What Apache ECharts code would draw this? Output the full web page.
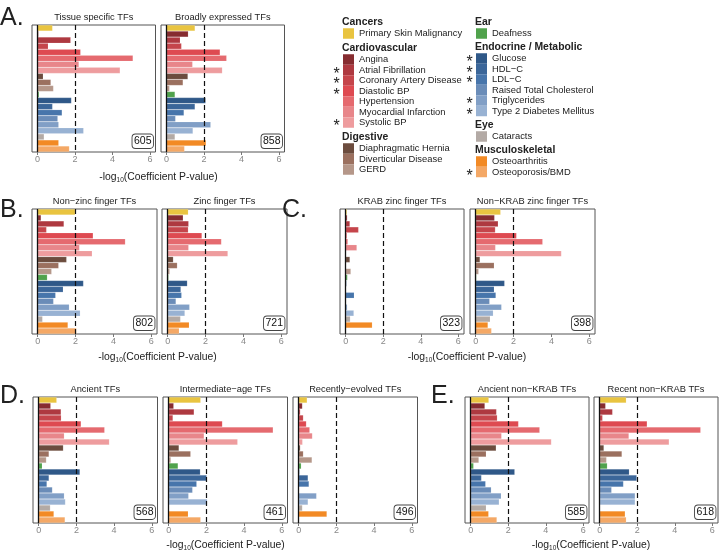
<!DOCTYPE html>
<html><head><meta charset="utf-8">
<script src="https://cdn.jsdelivr.net/npm/echarts@6/dist/echarts.min.js"></script>
<style>html,body{margin:0;padding:0;background:#fff}#c{width:723px;height:555px}</style>
</head><body><div id="c"></div>
<script>
// ---------- DATA ----------
const categories = ['Primary Skin Malignancy','Angina','Atrial Fibrillation','Coronary Artery Disease','Diastolic BP','Hypertension','Myocardial Infarction','Systolic BP','Diaphragmatic Hernia','Diverticular Disease','GERD','Deafness','Glucose','HDL\u2212C','LDL\u2212C','Raised Total Cholesterol','Triglycerides','Type 2 Diabetes Mellitus','Cataracts','Osteoarthritis','Osteoporosis/BMD'];
const groupNames = ['Cancers','Cardiovascular','Digestive','Ear','Endocrine / Metabolic','Eye','Musculoskeletal'];
const groupSizes = [1,7,3,1,6,1,2];
const significant = [0,0,1,1,1,0,0,1,0,0,0,0,1,1,1,0,1,1,0,0,1];
const colors = ['#E9C440','#862C30','#AE3940','#C5454B','#DE4A51','#E56A6F','#E8868A','#EE9C9E','#6C4C3E','#9B705F','#B59789','#50A24C','#2F5888','#3B6699','#4775AB','#6A8CB8','#819FC6','#98B2D3','#B3AAA5','#F28A25','#F4A866'];
const xTicks = [0,2,4,6];
const panelTitles = ['Tissue specific TFs','Broadly expressed TFs','Non\u2212zinc finger TFs','Zinc finger TFs','KRAB zinc finger TFs','Non\u2212KRAB zinc finger TFs','Ancient TFs','Intermediate\u2212age TFs','Recently\u2212evolved TFs','Ancient non\u2212KRAB TFs','Recent non\u2212KRAB TFs'];
const counts = [605,858,802,721,323,398,568,461,496,585,618];
const tissueSpecific   = [0.80,0.05,1.77,0.57,2.30,5.10,2.21,4.41,0.30,0.71,0.85,0.08,1.81,0.80,1.31,1.08,1.13,2.46,0.35,1.13,1.70];
const broadlyExpressed = [1.52,1.16,0.73,0.80,2.86,3.21,1.39,2.98,1.14,0.88,0.16,0.45,2.09,1.52,0.93,0.48,2.36,1.41,0.45,2.11,0.96];
const nonZincFinger    = [1.98,0.18,1.39,0.47,2.93,4.63,2.21,2.88,1.53,1.11,0.74,0.51,2.42,1.35,0.95,0.84,1.67,2.25,0.26,1.60,2.05];
const zincFinger       = [1.09,0.82,1.11,1.09,1.81,2.84,1.11,3.18,0.30,0.51,0.11,0.05,1.04,0.70,0.74,0.44,1.16,0.91,0.68,1.14,0.61];
const krabZnf          = [0.07,0.09,0.23,0.69,0.07,0.12,0.60,0.02,0.23,0.03,0.28,0.10,0.05,0.02,0.46,0.02,0.09,0.44,0.25,1.42,0.02];
const nonKrabZnf       = [1.32,1.00,1.19,1.04,2.16,3.54,1.05,4.53,0.23,0.98,0.16,0.04,1.53,0.98,1.07,0.74,1.37,0.93,0.77,0.65,0.84];
const ancientTFs       = [0.96,0.64,1.19,1.20,2.25,3.50,1.36,3.75,1.31,0.55,0.41,0.19,2.19,0.55,0.44,0.73,1.36,1.42,0.62,0.81,1.40];
const intermediateTFs  = [1.70,0.27,1.35,0.23,2.85,5.54,1.88,3.66,0.55,1.17,0.12,0.50,1.68,2.02,1.49,1.27,1.06,2.05,0.02,1.04,1.70];
const recentTFs        = [0.45,0.20,0.09,0.25,0.41,0.59,0.73,0.21,0.09,0.25,0.71,0.14,0.05,0.50,0.55,0.02,0.95,0.50,0.20,1.50,0.01];
const ancientNonKrab   = [0.97,0.76,1.38,1.42,2.55,3.68,1.65,4.30,1.36,0.83,0.44,0.16,2.35,0.58,0.80,1.10,1.63,1.52,0.83,0.96,1.40];
const recentNonKrab    = [1.42,0.32,0.69,0.16,2.53,5.38,1.56,3.70,0.23,1.19,0.37,0.41,1.58,1.98,1.27,0.64,1.89,1.89,0.02,1.36,1.42];
const panelData = [tissueSpecific,broadlyExpressed,nonZincFinger,zincFinger,krabZnf,nonKrabZnf,ancientTFs,intermediateTFs,recentTFs,ancientNonKrab,recentNonKrab];
const threshold = 2;

// ---------- LAYOUT ----------
const FONT = '"Liberation Sans", Arial, Helvetica, sans-serif';
const boxes = [
  [32,25,123.5,127],[161,25,123.5,127],
  [32,209,125,125],[162,209,125,125],
  [340,209,124,125],[470,209,125,125],
  [33,397,124.5,126],[163,397,124.5,126],[293,397,124.5,126],
  [465,397,124,126],[594,397,124,126]
];
const panelLetters = [['A.',0,18],['B.',0,210],['C.',282,210],['D.',0,396],['E.',431,396]];
const axisTitles = [[158.5,177],[157.5,357],[467,357],[225.5,545],[591,545]];

const chart = echarts.init(document.getElementById('c'));
const grid = [], xAxis = [], yAxis = [], series = [], graphic = [];
boxes.forEach((b,i) => {
  grid.push({left:b[0], top:b[1], width:b[2], height:b[3], show:true, borderColor:'#555', borderWidth:1, backgroundColor:'#fff', containLabel:false});
  xAxis.push({type:'value', gridIndex:i, min:-0.3, max:6.3,
    splitLine:{show:false}, axisLine:{show:false},
    axisTick:{show:true, customValues:xTicks, length:3, lineStyle:{color:'#777', width:1}},
    axisLabel:{customValues:xTicks, color:'#888', fontSize:9, margin:3, fontFamily:FONT}});
  yAxis.push({type:'category', gridIndex:i, data:categories, inverse:true, show:false});
  series.push({type:'bar', xAxisIndex:i, yAxisIndex:i, data:panelData[i], barCategoryGap:'0%',
    animation:false, silent:true,
    itemStyle:{color:p => colors[p.dataIndex], borderColor:'rgba(255,255,255,0.25)', borderWidth:0.5},
    markLine:{silent:true, symbol:['none','none'], label:{show:false}, animation:false,
      data:[{xAxis:0, lineStyle:{color:'#111', width:1.3, type:'solid'}},
            {xAxis:threshold, lineStyle:{color:'#111', width:1.2, type:[5,3]}}]}});
  graphic.push({type:'text', x:b[0]+b[2]/2, y:b[1]-8, style:{text:panelTitles[i], align:'center', verticalAlign:'middle', fontSize:9.3, fill:'#222', fontFamily:FONT}});
  graphic.push({type:'text', x:b[0]+b[2]-2.5, y:b[1]+b[3]-4, z:10, style:{text:String(counts[i]), align:'right', verticalAlign:'bottom', fontSize:10.5, fill:'#111', fontFamily:FONT, backgroundColor:'#fff', borderColor:'#444', borderWidth:0.9, borderRadius:3, padding:[1.5,1.5,1,1.5]}});
});
panelLetters.forEach(l => graphic.push({type:'text', x:l[1], y:l[2], style:{text:l[0], verticalAlign:'middle', fontSize:25, fill:'#222', fontFamily:FONT}}));
axisTitles.forEach(a => graphic.push({type:'text', x:a[0], y:a[1], style:{text:'-log{s|10}(Coefficient P-value)', align:'center', verticalAlign:'middle', fontSize:10.4, fill:'#222', fontFamily:FONT, rich:{s:{fontSize:6.5, fontFamily:FONT, fill:'#222', padding:[6,0,0,0]}}}}));

// legend
const colX = [343,343,343,476,476,476,476];
const headerY = [22,48,137,22,47,125,150];
let idx = 0;
groupNames.forEach((g,gi) => {
  const x = colX[gi];
  graphic.push({type:'text', x:x-1, y:headerY[gi], style:{text:g, verticalAlign:'middle', fontSize:10.4, fontWeight:'bold', fill:'#222', fontFamily:FONT}});
  for (let k=0;k<groupSizes[gi];k++,idx++){
    const y = headerY[gi]+11.5+k*10.5;
    graphic.push({type:'rect', shape:{x:x, y:y-5.25, width:11, height:10.5}, style:{fill:colors[idx]}});
    graphic.push({type:'text', x:x+16, y:y, style:{text:categories[idx], verticalAlign:'middle', fontSize:9.4, fill:'#222', fontFamily:FONT}});
    if (significant[idx]) graphic.push({type:'text', x:x-6.5, y:y+4.5, style:{text:'*', align:'center', verticalAlign:'middle', fontSize:16, fill:'#222', fontFamily:FONT}});
  }
});

chart.setOption({animation:false, backgroundColor:'#fff', grid, xAxis, yAxis, series, graphic});
</script></body></html>
